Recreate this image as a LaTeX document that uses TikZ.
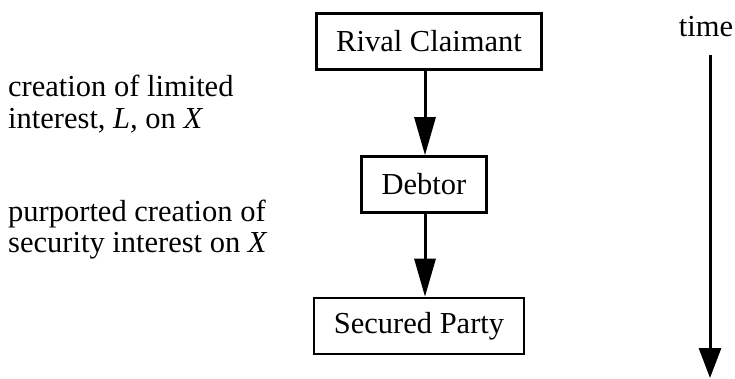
\documentclass[tikz,border=0pt]{standalone}
\usepackage{fontspec}
\setmainfont{Liberation Serif}
\usetikzlibrary{arrows.meta}
\begin{document}
\begin{tikzpicture}[x=1pt,y=-1pt,
  every node/.style={font=\fontsize{30.5}{31.5}\selectfont},
  box/.style={draw, line width=2.6pt, inner xsep=20pt, minimum height=56pt, inner ysep=0pt},
  conn/.style={line width=3pt, -{Triangle[length=38pt,width=21pt]}},
  lbl/.style={anchor=base west, inner sep=0pt}]
\useasboundingbox (0,0) rectangle (735,379);
\node[box] (rc) at (429,41.5) {Rival Claimant};
\node[box] (db) at (424,184.5) {Debtor};
\node[box] (sp) at (419,326) {Secured Party};
\draw[conn] (rc.south -| 425,0) -- (db.north -| 425,0);
\draw[conn] (db.south -| 425,0) -- (sp.north -| 425,0);
\node[lbl] (l1) at (8,97) {creation of limited};
\node[lbl] (l2) at (8,129) {interest, \textit{L,} on \textit{X}};
\node[lbl] (l3) at (8,222) {purported creation of};
\node[lbl] (l4) at (8,252) {security interest on \textit{X}};
\node[anchor=base, inner sep=0pt] (tm) at (706,37) {time};
\coordinate (t1) at (710,55);
\coordinate (t2) at (710,378);
\draw[line width=3pt, -{Triangle[length=30pt,width=22pt]}] (t1) -- (t2);
\end{tikzpicture}
\end{document}
